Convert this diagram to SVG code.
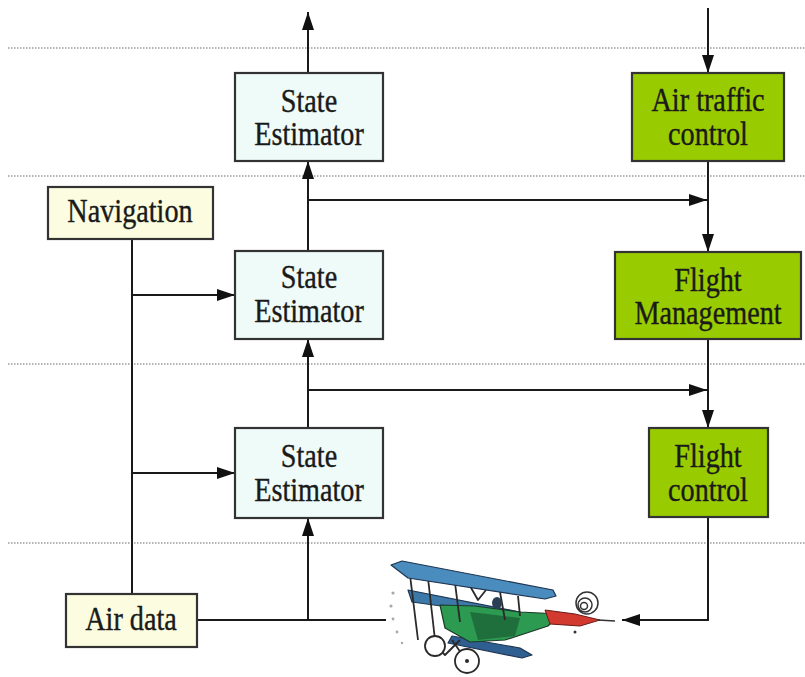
<svg xmlns="http://www.w3.org/2000/svg" width="805" height="677" viewBox="0 0 805 677">
  <defs>
    <style>
      .box { stroke: #333; stroke-width: 2.2; }
      .est { fill: #eefbf8; }
      .src { fill: #fcfde0; }
      .ctl { fill: #99cc00; }
      .lbl { font-family: 'Liberation Serif', 'Times New Roman', 'DejaVu Serif', serif; font-size: 30px; fill: #1a1a1a; stroke: #1a1a1a; stroke-width: 0.35; text-anchor: middle; }
      .wire { fill: none; stroke: #1a1a1a; stroke-width: 2; }
      .sep { stroke: #9a9a9a; stroke-width: 1.6; stroke-dasharray: 1.5 1.5; }
    </style>
    <marker id="arrow" markerUnits="userSpaceOnUse" markerWidth="18" markerHeight="12" refX="18" refY="6" orient="auto">
      <path d="M0,0 L18,6 L0,12 z" fill="#111"/>
    </marker>
  </defs>

  <rect width="805" height="677" fill="#ffffff"/>

  <!-- layer separators -->
  <g id="separators">
    <line class="sep" x1="8" y1="48" x2="805" y2="48"/>
    <line class="sep" x1="8" y1="176" x2="805" y2="176"/>
    <line class="sep" x1="8" y1="364" x2="805" y2="364"/>
    <line class="sep" x1="8" y1="543" x2="805" y2="543"/>
  </g>

  <!-- connectors -->
  <g id="connectors">
    <path class="wire" d="M308,73 V12" marker-end="url(#arrow)"/>
    <path class="wire" d="M708,8 V73" marker-end="url(#arrow)"/>
    <path class="wire" d="M308,251 V161" marker-end="url(#arrow)"/>
    <path class="wire" d="M308,200 H707" marker-end="url(#arrow)"/>
    <path class="wire" d="M708,161 V252" marker-end="url(#arrow)"/>
    <path class="wire" d="M132,239 V594"/>
    <path class="wire" d="M132,295 H235" marker-end="url(#arrow)"/>
    <path class="wire" d="M132,473 H235" marker-end="url(#arrow)"/>
    <path class="wire" d="M308,428 V339" marker-end="url(#arrow)"/>
    <path class="wire" d="M308,390 H707" marker-end="url(#arrow)"/>
    <path class="wire" d="M708,339 V428" marker-end="url(#arrow)"/>
    <path class="wire" d="M708,517 V620 H622" marker-end="url(#arrow)"/>
    <path class="wire" d="M197,620 H386"/>
    <path class="wire" d="M308,620 V518" marker-end="url(#arrow)"/>
  </g>

  <!-- nodes (labels drawn slightly condensed and tall) -->
  <g id="state-estimator-top">
    <rect class="box est" x="235" y="73" width="148" height="88"/>
    <text class="lbl" transform="translate(309,112) scale(0.94,1.1)">State</text>
    <text class="lbl" transform="translate(309,145) scale(0.94,1.1)">Estimator</text>
  </g>
  <g id="state-estimator-mid">
    <rect class="box est" x="235" y="251" width="148" height="88"/>
    <text class="lbl" transform="translate(309,288) scale(0.94,1.1)">State</text>
    <text class="lbl" transform="translate(309,322) scale(0.94,1.1)">Estimator</text>
  </g>
  <g id="state-estimator-low">
    <rect class="box est" x="235" y="428" width="148" height="90"/>
    <text class="lbl" transform="translate(309,467) scale(0.94,1.1)">State</text>
    <text class="lbl" transform="translate(309,501) scale(0.94,1.1)">Estimator</text>
  </g>
  <g id="navigation">
    <rect class="box src" x="48" y="187" width="165" height="52"/>
    <text class="lbl" transform="translate(130,222) scale(0.94,1.1)">Navigation</text>
  </g>
  <g id="air-data">
    <rect class="box src" x="66" y="594" width="131" height="53"/>
    <text class="lbl" transform="translate(131,630) scale(0.94,1.1)">Air data</text>
  </g>
  <g id="air-traffic-control">
    <rect class="box ctl" x="632" y="73" width="152" height="88"/>
    <text class="lbl" transform="translate(708,111) scale(0.94,1.1)">Air traffic</text>
    <text class="lbl" transform="translate(708,145) scale(0.94,1.1)">control</text>
  </g>
  <g id="flight-management">
    <rect class="box ctl" x="615" y="252" width="186" height="87"/>
    <text class="lbl" transform="translate(708,291) scale(0.94,1.1)">Flight</text>
    <text class="lbl" transform="translate(708,324) scale(0.94,1.1)">Management</text>
  </g>
  <g id="flight-control">
    <rect class="box ctl" x="649" y="428" width="119" height="89"/>
    <text class="lbl" transform="translate(708,467) scale(0.94,1.1)">Flight</text>
    <text class="lbl" transform="translate(708,501) scale(0.94,1.1)">control</text>
  </g>

  <!-- aircraft -->
  <g id="aircraft" stroke-linejoin="round">
    <!-- propeller blur -->
    <g fill="#a8a8a8">
      <circle cx="393" cy="593" r="1.6"/>
      <circle cx="391" cy="606" r="1.6"/>
      <circle cx="393" cy="619" r="1.4"/>
      <circle cx="397" cy="632" r="1.4"/>
      <circle cx="402" cy="643" r="1.2"/>
    </g>
    <!-- lower wing -->
    <polygon points="452,636 520,648 532,655 522,658 448,643" fill="#2f5f90" stroke="#1f3550" stroke-width="1.2"/>
    <!-- middle wing -->
    <polygon points="408,590 520,612 528,618 412,602" fill="#3c78a8" stroke="#1f3550" stroke-width="1.2"/>
    <!-- fuselage -->
    <polygon points="440,605 475,606 520,612 560,614 548,626 505,640 470,642 445,628" fill="#2c9a50" stroke="#1d3a28" stroke-width="1.2"/>
    <polygon points="470,612 520,618 515,636 478,640" fill="#1f6f3c"/>
    <!-- tail -->
    <polygon points="545,610 575,614 600,620 580,626 550,624" fill="#d23a30" stroke="#6a1a18" stroke-width="1"/>
    <line x1="598" y1="620" x2="615" y2="621" stroke="#333" stroke-width="1.5"/>
    <!-- struts and frame -->
    <g stroke="#2a2a2a" stroke-width="1.8" fill="none">
      <path d="M410,575 L418,640"/>
      <path d="M428,578 L435,640"/>
      <path d="M455,583 L460,622"/>
      <path d="M470,586 L478,600 L486,590"/>
      <path d="M500,592 L505,620"/>
      <path d="M518,596 L520,616"/>
      <path d="M430,640 L445,655 L460,640"/>
      <path d="M452,640 L466,660"/>
    </g>
    <!-- upper wing -->
    <polygon points="391,565 402,561 553,590 556,596 545,599 408,578" fill="#4a8cbe" stroke="#1f3550" stroke-width="1.2"/>
    <!-- pilot -->
    <ellipse cx="497" cy="603" rx="5" ry="6" fill="#2a3f55"/>
    <!-- wheels -->
    <g fill="#ffffff" stroke="#2a2a2a" stroke-width="1.8">
      <circle cx="435" cy="646" r="10"/>
      <circle cx="467" cy="661" r="12"/>
    </g>
    <circle cx="467" cy="661" r="2" fill="#2a2a2a"/>
    <!-- rotary coils -->
    <g fill="none" stroke="#333" stroke-width="1.5">
      <circle cx="587" cy="603" r="11"/>
      <circle cx="585" cy="605" r="7"/>
      <circle cx="584" cy="606" r="3.5"/>
    </g>
    <circle cx="575" cy="632" r="1.5" fill="#333"/>
  </g>
</svg>
